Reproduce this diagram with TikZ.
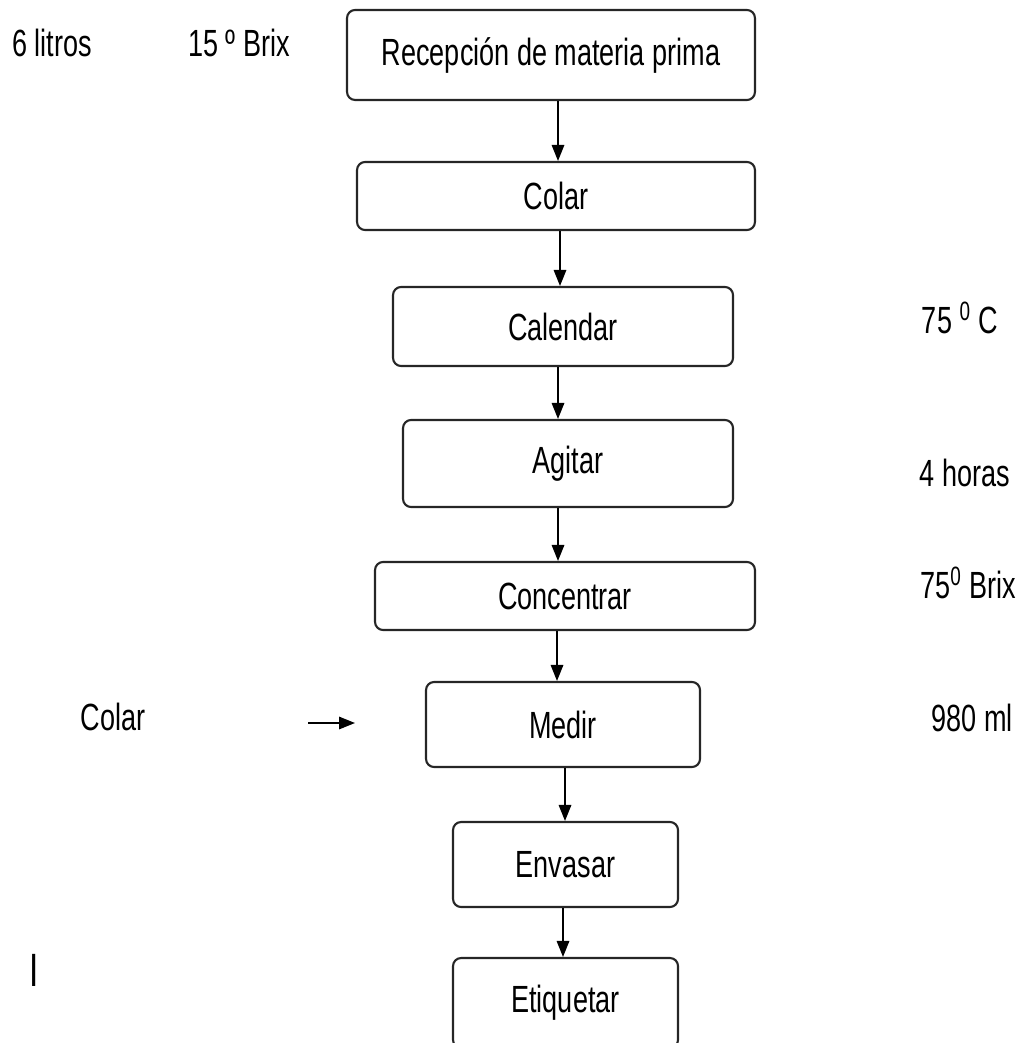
\documentclass[tikz,border=0pt]{standalone}
\usepackage{fontspec}
\setmainfont{Liberation Sans}
\usepackage{graphicx}
\usetikzlibrary{arrows.meta}

\newcommand{\tx}[1]{\scalebox{1}[1.4]{#1}}

\tikzset{
	caja/.style={draw=black!85, line width=1.2pt, rounded corners=0.16cm, inner sep=0pt},
	flecha/.style={-{Triangle[length=0.32cm,width=0.25cm]}, line width=0.9pt},
}

\begin{document}
\begin{tikzpicture}[x=0.02cm, y=-0.02cm, font=\fontsize{15.4}{18}\selectfont]
	%\draw[help lines] (0,0) grid[step=100] (1021,1043);
	\useasboundingbox (0,0) rectangle (1021,1043);
	% pasos del proceso
	\node[caja, minimum width=8.16cm, minimum height=1.8cm] (recep) at (551,55) {\tx{Recepción de materia prima}};
	\node[caja, minimum width=7.96cm, minimum height=1.36cm] (colar) at (556,196) {\tx{Colar}};
	\node[caja, minimum width=6.8cm, minimum height=1.58cm] (calendar) at (563,326.5) {\tx{Calendar}};
	\node[caja, minimum width=6.6cm, minimum height=1.74cm] (agitar) at (568,463.5) {\tx{Agitar}};
	\node[caja, minimum width=7.6cm, minimum height=1.36cm] (concentrar) at (565,596) {\tx{Concentrar}};
	\node[caja, minimum width=5.48cm, minimum height=1.7cm] (medir) at (563,724.5) {\tx{Medir}};
	\node[caja, minimum width=4.5cm, minimum height=1.7cm] (envasar) at (565.5,864.5) {\tx{Envasar}};
	\node[caja, minimum width=4.5cm, minimum height=1.8cm] (etiquetar) at (565.5,1003) {\tx{Etiquetar}};
	% datos
	\node (litros) at (52,43) {\tx{6 litros}};
	\node (brix) at (239,43) {\tx{15 º Brix}};
	\node (temp) at (960,318) {\tx{75 \textsuperscript{0} C}};
	\node (horas) at (965,473) {\tx{4 horas}};
	\node (brixfin) at (968,583) {\tx{75\textsuperscript{0} Brix}};
	\node (ml) at (972,718) {\tx{980 ml}};
	\node (colarizq) at (113,717) {\tx{Colar}};
	\node (cursor) at (34,970) {\tx{\fontsize{19}{22}\selectfont I}};
	% flechas
	\draw[flecha] (recep.south -| 558,0) -- (colar.north -| 558,0);
	\draw[flecha] (colar.south -| 560,0) -- (calendar.north -| 560,0);
	\draw[flecha] (calendar.south -| 558,0) -- (agitar.north -| 558,0);
	\draw[flecha] (agitar.south -| 558,0) -- (concentrar.north -| 558,0);
	\draw[flecha] (concentrar.south -| 557,0) -- (medir.north -| 557,0);
	\draw[flecha] (medir.south -| 565,0) -- (envasar.north -| 565,0);
	\draw[flecha] (envasar.south -| 563,0) -- (etiquetar.north -| 563,0);
	\coordinate (ini) at (308,723);
	\coordinate (fin) at (355,723);
	\draw[flecha] (ini) -- (fin);
\end{tikzpicture}
\end{document}
